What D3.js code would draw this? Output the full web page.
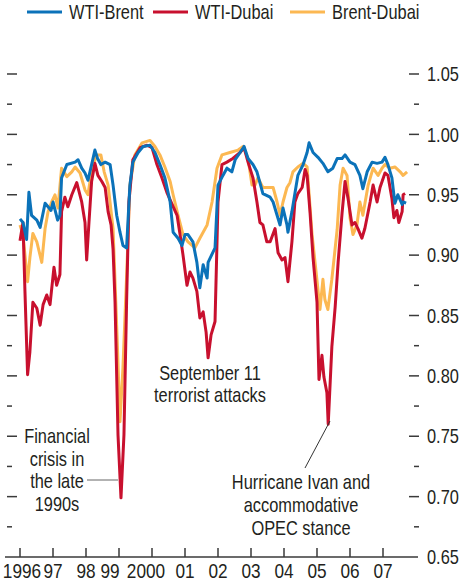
<!DOCTYPE html>
<html>
<head>
<meta charset="utf-8">
<script src="https://cdn.jsdelivr.net/npm/d3@7"></script>
<style>
  body { margin: 0; background: #fff; }
  svg text { font-family: "Liberation Sans", Arial, sans-serif; fill: #231f20; }
</style>
</head>
<body>
<svg id="chart" width="460" height="586"></svg>
<script>
var seriesNames = ["WTI-Brent", "WTI-Dubai", "Brent-Dubai"];
var seriesColors = ["#0b72b9", "#c8102e", "#fcb852"];

var xTicks = [1996, 1997, 1998, 1999, 2000, 2001, 2002, 2003, 2004, 2005, 2006, 2007];
var xTickLabels = ["1996", "97", "98", "99", "2000", "01", "02", "03", "04", "05", "06", "07"];
var yMajor = [0.70, 0.75, 0.80, 0.85, 0.90, 0.95, 1.00, 1.05];
var yMinor = [0.675, 0.725, 0.775, 0.825, 0.875, 0.925, 0.975, 1.025];

// [year, correlation]
var wtiBrent = [
  [1996.00, 0.930], [1996.09, 0.927], [1996.20, 0.913], [1996.27, 0.952], [1996.35, 0.933],
  [1996.51, 0.929], [1996.61, 0.923], [1996.76, 0.943], [1996.85, 0.940], [1996.94, 0.937],
  [1997.00, 0.944], [1997.14, 0.929], [1997.21, 0.933], [1997.26, 0.964], [1997.42, 0.975],
  [1997.67, 0.977], [1997.76, 0.979], [1997.87, 0.972], [1997.97, 0.968], [1998.06, 0.962],
  [1998.17, 0.975], [1998.27, 0.987], [1998.35, 0.980], [1998.45, 0.975], [1998.58, 0.977],
  [1998.73, 0.975], [1998.82, 0.958], [1998.93, 0.933], [1999.03, 0.919], [1999.12, 0.908],
  [1999.23, 0.906], [1999.33, 0.958], [1999.42, 0.977], [1999.58, 0.985], [1999.73, 0.990],
  [1999.94, 0.991], [2000.09, 0.985], [2000.24, 0.975], [2000.39, 0.964], [2000.55, 0.944],
  [2000.64, 0.919], [2000.79, 0.914], [2000.91, 0.908], [2001.00, 0.917], [2001.09, 0.917],
  [2001.24, 0.911], [2001.36, 0.894], [2001.45, 0.873], [2001.55, 0.892], [2001.67, 0.881],
  [2001.70, 0.894], [2001.91, 0.906], [2002.00, 0.958], [2002.15, 0.966], [2002.27, 0.972],
  [2002.42, 0.969], [2002.52, 0.979], [2002.67, 0.985], [2002.79, 0.990], [2002.91, 0.980],
  [2003.06, 0.975], [2003.18, 0.969], [2003.27, 0.960], [2003.36, 0.951], [2003.58, 0.948],
  [2003.67, 0.944], [2003.79, 0.933], [2003.88, 0.925], [2003.97, 0.939], [2004.09, 0.925],
  [2004.12, 0.919], [2004.24, 0.936], [2004.33, 0.951], [2004.42, 0.966], [2004.58, 0.975],
  [2004.70, 0.985], [2004.76, 0.993], [2004.88, 0.985], [2005.03, 0.981], [2005.18, 0.976],
  [2005.33, 0.969], [2005.48, 0.972], [2005.61, 0.980], [2005.76, 0.980], [2005.85, 0.983],
  [2006.00, 0.977], [2006.15, 0.975], [2006.30, 0.966], [2006.39, 0.955], [2006.52, 0.969],
  [2006.67, 0.977], [2006.82, 0.976], [2006.97, 0.977], [2007.06, 0.981], [2007.15, 0.975],
  [2007.27, 0.964], [2007.36, 0.943], [2007.45, 0.950], [2007.58, 0.942], [2007.61, 0.944],
  [2007.70, 0.943]
];

var wtiDubai = [
  [1996.00, 0.912], [1996.09, 0.927], [1996.15, 0.870], [1996.23, 0.801], [1996.30, 0.820],
  [1996.39, 0.861], [1996.51, 0.856], [1996.61, 0.842], [1996.70, 0.859], [1996.81, 0.867],
  [1996.91, 0.859], [1997.03, 0.890], [1997.11, 0.875], [1997.21, 0.884], [1997.26, 0.936],
  [1997.36, 0.948], [1997.45, 0.940], [1997.57, 0.950], [1997.72, 0.960], [1997.87, 0.944],
  [1997.97, 0.927], [1998.02, 0.896], [1998.09, 0.927], [1998.17, 0.961], [1998.27, 0.976],
  [1998.36, 0.966], [1998.48, 0.961], [1998.58, 0.956], [1998.67, 0.936], [1998.76, 0.925],
  [1998.82, 0.905], [1998.88, 0.861], [1998.97, 0.751], [1999.06, 0.699], [1999.15, 0.751],
  [1999.23, 0.861], [1999.30, 0.944], [1999.42, 0.979], [1999.64, 0.989], [1999.85, 0.991],
  [2000.00, 0.989], [2000.15, 0.975], [2000.30, 0.964], [2000.45, 0.952], [2000.61, 0.942],
  [2000.76, 0.933], [2000.85, 0.917], [2000.94, 0.900], [2001.06, 0.875], [2001.15, 0.886],
  [2001.24, 0.881], [2001.36, 0.870], [2001.45, 0.848], [2001.55, 0.853], [2001.64, 0.836],
  [2001.70, 0.815], [2001.79, 0.834], [2001.91, 0.845], [2002.00, 0.944], [2002.12, 0.975],
  [2002.27, 0.977], [2002.45, 0.980], [2002.67, 0.985], [2002.79, 0.989], [2002.91, 0.977],
  [2003.06, 0.964], [2003.18, 0.944], [2003.27, 0.927], [2003.36, 0.925], [2003.48, 0.911],
  [2003.58, 0.911], [2003.73, 0.922], [2003.82, 0.902], [2003.94, 0.896], [2004.03, 0.898],
  [2004.12, 0.878], [2004.24, 0.911], [2004.33, 0.944], [2004.42, 0.951], [2004.55, 0.956],
  [2004.64, 0.971], [2004.70, 0.966], [2004.79, 0.935], [2004.88, 0.898], [2005.00, 0.861],
  [2005.06, 0.797], [2005.15, 0.817], [2005.21, 0.799], [2005.30, 0.786], [2005.34, 0.760],
  [2005.45, 0.824], [2005.55, 0.857], [2005.64, 0.894], [2005.76, 0.935], [2005.85, 0.961],
  [2005.94, 0.947], [2006.06, 0.925], [2006.15, 0.927], [2006.24, 0.922], [2006.36, 0.914],
  [2006.45, 0.922], [2006.61, 0.944], [2006.70, 0.958], [2006.82, 0.944], [2006.91, 0.956],
  [2007.06, 0.968], [2007.15, 0.966], [2007.27, 0.947], [2007.33, 0.931], [2007.42, 0.937],
  [2007.48, 0.927], [2007.58, 0.936], [2007.61, 0.950], [2007.67, 0.951]
];

var brentDubai = [
  [1996.00, 0.925], [1996.09, 0.917], [1996.23, 0.878], [1996.30, 0.898], [1996.39, 0.918],
  [1996.51, 0.911], [1996.66, 0.894], [1996.76, 0.922], [1996.85, 0.936], [1996.96, 0.944],
  [1997.06, 0.950], [1997.15, 0.939], [1997.26, 0.972], [1997.42, 0.965], [1997.57, 0.969],
  [1997.67, 0.973], [1997.82, 0.968], [1997.97, 0.954], [1998.06, 0.950], [1998.18, 0.972],
  [1998.33, 0.983], [1998.45, 0.983], [1998.55, 0.969], [1998.67, 0.958], [1998.82, 0.922],
  [1998.94, 0.834], [1999.03, 0.762], [1999.12, 0.807], [1999.24, 0.889], [1999.33, 0.958],
  [1999.48, 0.983], [1999.70, 0.993], [1999.94, 0.995], [2000.09, 0.990], [2000.24, 0.983],
  [2000.39, 0.973], [2000.55, 0.961], [2000.64, 0.950], [2000.79, 0.933], [2000.94, 0.917],
  [2001.09, 0.911], [2001.30, 0.906], [2001.45, 0.914], [2001.67, 0.925], [2001.82, 0.944],
  [2001.97, 0.972], [2002.12, 0.983], [2002.36, 0.985], [2002.61, 0.987], [2002.76, 0.990],
  [2002.91, 0.980], [2003.03, 0.958], [2003.12, 0.958], [2003.21, 0.964], [2003.36, 0.956],
  [2003.52, 0.956], [2003.67, 0.956], [2003.79, 0.944], [2003.88, 0.933], [2003.97, 0.944],
  [2004.09, 0.956], [2004.18, 0.960], [2004.27, 0.969], [2004.42, 0.973], [2004.58, 0.976],
  [2004.70, 0.973], [2004.85, 0.917], [2005.00, 0.879], [2005.09, 0.855], [2005.18, 0.880],
  [2005.24, 0.863], [2005.33, 0.855], [2005.45, 0.880], [2005.61, 0.921], [2005.70, 0.958],
  [2005.79, 0.972], [2005.91, 0.966], [2006.00, 0.931], [2006.09, 0.917], [2006.21, 0.925],
  [2006.30, 0.944], [2006.39, 0.933], [2006.55, 0.958], [2006.70, 0.972], [2006.85, 0.966],
  [2006.97, 0.972], [2007.06, 0.975], [2007.21, 0.972], [2007.36, 0.973], [2007.52, 0.969],
  [2007.61, 0.966], [2007.73, 0.969]
];

var svg = d3.select("#chart");

var x = d3.scaleLinear().domain([1996, 2008]).range([20, 416]);
var y = d3.scaleLinear().domain([0.65, 1.05]).range([557, 74]);

// narrow text: Arial-metric font squeezed horizontally
function addText(tx, ty, str, size, anchor) {
  return svg.append("text")
    .attr("transform", "translate(" + tx + "," + ty + ") scale(0.82,1)")
    .attr("text-anchor", anchor || "start")
    .attr("font-size", size)
    .text(str);
}

// legend
var legendX = [27, 153, 290];
seriesNames.forEach(function(name, i) {
  svg.append("line")
    .attr("x1", legendX[i]).attr("x2", legendX[i] + 35)
    .attr("y1", 12).attr("y2", 12)
    .attr("stroke", seriesColors[i]).attr("stroke-width", 3);
  addText(legendX[i] + 42, 18.5, name, 20);
});

// y ticks, both sides
var tickColor = "#3a3a3a";
yMajor.forEach(function(v) {
  svg.append("line").attr("x1", 7).attr("x2", 17).attr("y1", y(v)).attr("y2", y(v))
    .attr("stroke", tickColor).attr("stroke-width", 1.5);
  svg.append("line").attr("x1", 409).attr("x2", 419).attr("y1", y(v)).attr("y2", y(v))
    .attr("stroke", tickColor).attr("stroke-width", 1.5);
});
yMinor.forEach(function(v) {
  svg.append("line").attr("x1", 7).attr("x2", 12).attr("y1", y(v)).attr("y2", y(v))
    .attr("stroke", tickColor).attr("stroke-width", 1.5);
  svg.append("line").attr("x1", 414).attr("x2", 419).attr("y1", y(v)).attr("y2", y(v))
    .attr("stroke", tickColor).attr("stroke-width", 1.5);
});
yMajor.concat([0.65]).forEach(function(v) {
  addText(427, y(v) + 7.2, d3.format(".2f")(v), 20);
});

// x axis
svg.append("line").attr("x1", 5).attr("x2", 418).attr("y1", y(0.65)).attr("y2", y(0.65))
  .attr("stroke", tickColor).attr("stroke-width", 1.5);
var labelNudge = {"1996": 2, "99": -9, "2000": -6};
xTicks.forEach(function(t, i) {
  svg.append("line").attr("x1", x(t)).attr("x2", x(t))
    .attr("y1", y(0.65)).attr("y2", y(0.65) - 9)
    .attr("stroke", tickColor).attr("stroke-width", 1.5);
  addText(x(t) + (labelNudge[xTickLabels[i]] || 0), 578, xTickLabels[i], 21, "middle");
});

// lines
var line = d3.line()
  .x(function(d) { return x(d[0]); })
  .y(function(d) { return y(d[1]); });

[brentDubai, wtiDubai, wtiBrent].forEach(function(data, i) {
  var idx = [2, 1, 0][i];
  svg.append("path")
    .datum(data)
    .attr("fill", "none")
    .attr("stroke", seriesColors[idx])
    .attr("stroke-width", 3)
    .attr("stroke-linejoin", "round")
    .attr("d", line);
});

// annotations
function note(lines, cx, baselines) {
  lines.forEach(function(s, i) {
    addText(cx, baselines[i], s, 20, "middle");
  });
}
note(["Financial", "crisis in", "the late", "1990s"], 57, [443, 466, 488, 511]);
svg.append("line").attr("x1", 87).attr("x2", 118).attr("y1", 480).attr("y2", 480)
  .attr("stroke", "#666").attr("stroke-width", 1);

note(["September 11", "terrorist attacks"], 210, [380, 402]);

note(["Hurricane Ivan and", "accommodative", "OPEC stance"], 301, [489, 512, 535]);
svg.append("line").attr("x1", 305).attr("x2", 330).attr("y1", 468).attr("y2", 421)
  .attr("stroke", "#333").attr("stroke-width", 1);
</script>
</body>
</html>
